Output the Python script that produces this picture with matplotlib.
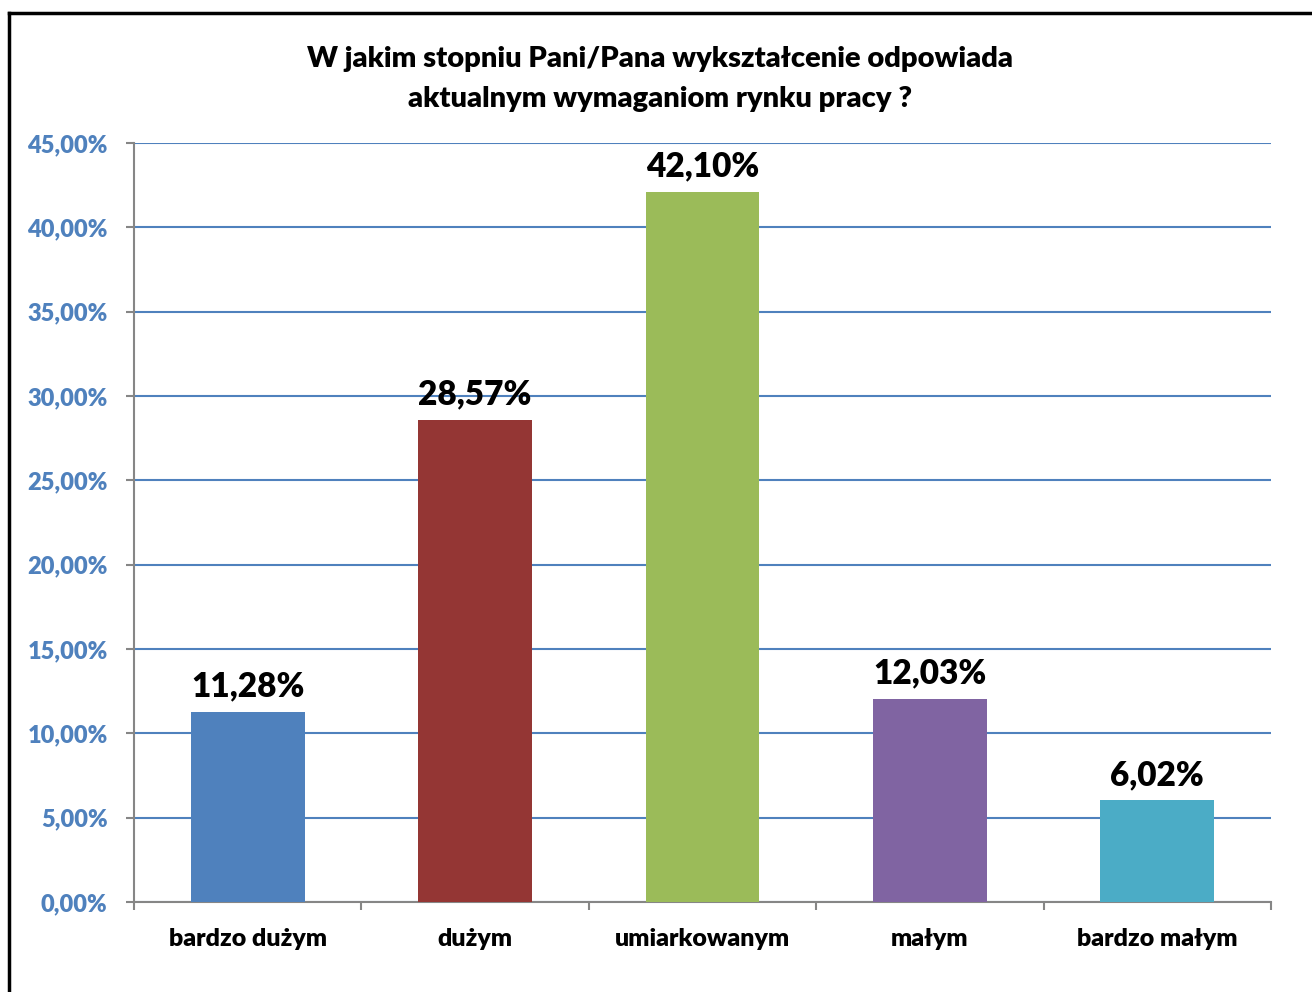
import matplotlib.pyplot as plt
from matplotlib.lines import Line2D
from matplotlib.ticker import FuncFormatter

categories = ["bardzo dużym", "dużym", "umiarkowanym", "małym", "bardzo małym"]
values = [11.28, 28.57, 42.10, 12.03, 6.02]
colors = ["#4F81BD", "#943634", "#9BBB59", "#8064A2", "#4BACC6"]
title = "W jakim stopniu Pani/Pana wykształcenie odpowiada\naktualnym wymaganiom rynku pracy ?"

plt.rcParams["font.family"] = ["Lato", "DejaVu Sans"]
WEIGHT = "heavy"

fig = plt.figure(figsize=(13.12, 9.92), dpi=100)
ax = fig.add_axes([134 / 1312, 1 - 902 / 992, (1271 - 134) / 1312, (902 - 143) / 992])

x = list(range(len(categories)))
ax.bar(x, values, width=0.5, color=colors, zorder=3)
for xi, v in zip(x, values):
    ax.text(xi, v + 0.55, f"{v:.2f}%".replace(".", ","), ha="center", va="bottom",
            fontsize=24, fontweight=WEIGHT, color="black", zorder=4)

ax.set_xlim(-0.5, len(categories) - 0.5)
ax.set_ylim(0, 45)
ax.set_yticks(range(0, 46, 5))
ax.yaxis.set_major_formatter(FuncFormatter(lambda v, _: f"{v:.2f}%".replace(".", ",")))
ax.grid(axis="y", color="#4F81BD", linewidth=1.5, zorder=0)

ax.set_xticks(x)
ax.set_xticklabels(categories, fontsize=18, fontweight=WEIGHT)
ax.set_xticks([i - 0.5 for i in range(len(categories) + 1)], minor=True)
ax.tick_params(axis="x", which="major", length=0, pad=19)
ax.tick_params(axis="x", which="minor", length=6, color="#868686", width=1.5)
ax.tick_params(axis="y", length=6, color="#868686", width=1.5, pad=13,
               labelsize=17, labelcolor="#4F81BD")
for lab in ax.get_yticklabels():
    lab.set_fontweight(WEIGHT)

for side in ("top", "right"):
    ax.spines[side].set_visible(False)
for side in ("left", "bottom"):
    ax.spines[side].set_color("#868686")
    ax.spines[side].set_linewidth(1.5)

fig.text(660 / 1312, 1 - 79 / 992, title, ha="center", va="center",
         fontsize=21, fontweight=WEIGHT, linespacing=1.62)

# chart frame (left and top edges visible)
fig.add_artist(Line2D([9 / 1312, 9 / 1312], [0, 1 - 13 / 992], transform=fig.transFigure,
                      color="black", linewidth=2.5))
fig.add_artist(Line2D([9 / 1312, 1], [1 - 13 / 992, 1 - 13 / 992], transform=fig.transFigure,
                      color="black", linewidth=2.5))

fig.savefig("out.png", dpi=100)
